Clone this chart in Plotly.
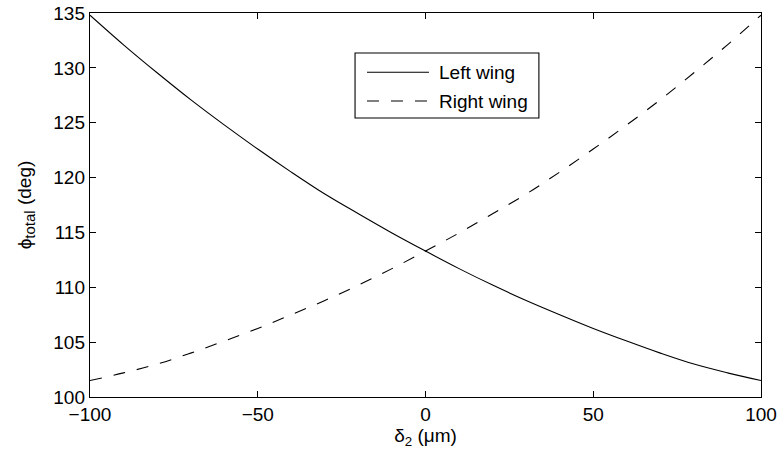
import plotly.graph_objects as go

# Wing offset delta_2 in micrometres
delta2 = [-100, -90, -80, -70, -60, -50, -40, -30, -20, -10, 0,
          10, 20, 30, 40, 50, 60, 70, 80, 90, 100]

# Total angle phi_total (deg) for each wing
left_wing = [134.8, 132.1, 129.55, 127.1, 124.8, 122.6, 120.5, 118.5, 116.7, 114.95, 113.3,
             111.7, 110.2, 108.8, 107.5, 106.25, 105.1, 104.0, 103.0, 102.2, 101.5]
right_wing = [101.5, 102.2, 103.0, 104.0, 105.1, 106.25, 107.5, 108.8, 110.2, 111.7, 113.3,
              114.95, 116.7, 118.5, 120.5, 122.6, 124.8, 127.1, 129.55, 132.1, 134.8]

x_ticks = [-100, -50, 0, 50, 100]
x_tick_text = ["\u2212100", "\u221250", "0", "50", "100"]
y_ticks = [100, 105, 110, 115, 120, 125, 130, 135]

FONT = "Liberation Sans, Arial, Helvetica, sans-serif"
DASH = "12px,12px"

fig = go.Figure()
fig.add_trace(go.Scatter(x=delta2, y=left_wing, mode="lines", name="Left wing",
                         line=dict(color="black", width=1.1, shape="spline")))
fig.add_trace(go.Scatter(x=delta2, y=right_wing, mode="lines", name="Right wing",
                         line=dict(color="black", width=1.1, dash=DASH, shape="spline")))

axis_common = dict(
    showline=True, linecolor="black", linewidth=1.4, mirror="allticks",
    ticks="inside", ticklen=6, tickcolor="black", tickwidth=1.2,
    showgrid=False, zeroline=False, automargin=False,
    tickfont=dict(family=FONT, size=19, color="black"),
)

fig.update_xaxes(range=[-100, 100], tickvals=x_ticks, ticktext=x_tick_text,
                 title=dict(text="\u03b4<sub>2</sub> (\u03bcm)", standoff=4,
                            font=dict(family=FONT, size=19, color="black")),
                 **axis_common)
fig.update_yaxes(range=[100, 135], tickvals=y_ticks,
                 title=dict(text="\u03d5<sub><span style='font-size:15px'>total</span></sub> (deg)",
                            standoff=16,
                            font=dict(family=FONT, size=19, color="black")),
                 **axis_common)

# Legend box drawn in paper coordinates
legend_box = dict(x0=0.395, x1=0.669, y0=0.7266, y1=0.896)
row_y = [0.8456, 0.7708]
sample_x = [0.4128, 0.5052]
shapes = [dict(type="rect", xref="paper", yref="paper", **legend_box,
               line=dict(color="black", width=1.1), fillcolor="white", layer="above")]
annotations = []
for yy, label, dash in zip(row_y, ["Left wing", "Right wing"], ["solid", DASH]):
    shapes.append(dict(type="line", xref="paper", yref="paper",
                       x0=sample_x[0], x1=sample_x[1], y0=yy, y1=yy,
                       line=dict(color="black", width=1.1, dash=dash), layer="above"))
    annotations.append(dict(xref="paper", yref="paper", x=0.517, y=yy, text=label,
                            showarrow=False, xanchor="left", yanchor="middle",
                            font=dict(family=FONT, size=19, color="black")))

fig.update_layout(
    width=781, height=460,
    margin=dict(l=90, r=20, t=13, b=63),
    paper_bgcolor="white", plot_bgcolor="white",
    showlegend=False,
    shapes=shapes, annotations=annotations,
    font=dict(family=FONT, size=19, color="black"),
)

fig.write_html("out.html")
